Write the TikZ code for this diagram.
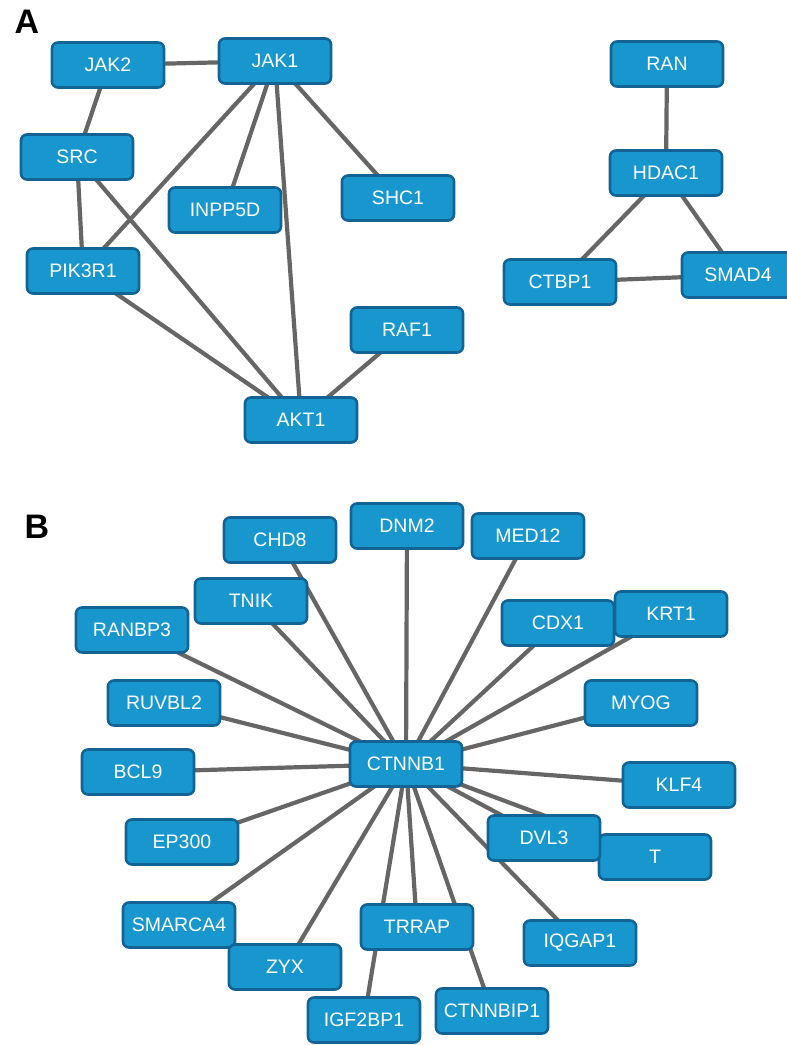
\documentclass[tikz,border=0pt]{standalone}
\usepackage{fontspec}
\setmainfont{Liberation Sans}
\usetikzlibrary{backgrounds}
\definecolor{boxfill}{RGB}{24,151,206}
\definecolor{boxline}{RGB}{19,100,148}
\definecolor{edgecol}{RGB}{102,102,102}
\begin{document}
\begin{tikzpicture}[x=1pt,y=-1pt,
  gene/.style={draw=boxline, fill=boxfill, line width=2.6pt, rounded corners=6pt,
    minimum width=112pt, minimum height=45pt, inner sep=0pt, text=white,
    font=\fontsize{19.5}{21}\selectfont},
  edge/.style={draw=edgecol, line width=4.2pt},
  panel/.style={font=\fontsize{34}{36}\selectfont\bfseries, text=black}]
\useasboundingbox (0,0) rectangle (787,1045);
\node[panel] (LA) at (27,22) {A};
\node[panel] (LB) at (37,527) {B};
% Panel A
\node[gene] (JAK2) at (108,65) {JAK2};
\node[gene] (JAK1) at (275,61) {JAK1};
\node[gene] (SRC) at (77,157) {SRC};
\node[gene] (INPP5D) at (225,210) {INPP5D};
\node[gene] (SHC1) at (398,198) {SHC1};
\node[gene] (PIK3R1) at (83,271) {PIK3R1};
\node[gene] (RAF1) at (407,330) {RAF1};
\node[gene] (AKT1) at (301,420) {AKT1};
\node[gene] (RAN) at (667,64) {RAN};
\node[gene] (HDAC1) at (666,173) {HDAC1};
\node[gene] (CTBP1) at (560,282) {CTBP1};
\node[gene] (SMAD4) at (738,275) {SMAD4};
% Panel B
\node[gene] (CHD8) at (280,540) {CHD8};
\node[gene] (DNM2) at (407,526) {DNM2};
\node[gene] (MED12) at (528,536) {MED12};
\node[gene] (TNIK) at (251,601) {TNIK};
\node[gene] (RANBP3) at (132,630) {RANBP3};
\node[gene] (CDX1) at (558,623) {CDX1};
\node[gene] (KRT1) at (671,614) {KRT1};
\node[gene] (RUVBL2) at (164,703) {RUVBL2};
\node[gene] (MYOG) at (641,703) {MYOG};
\node[gene] (CTNNB1) at (406,764) {CTNNB1};
\node[gene] (BCL9) at (138,772) {BCL9};
\node[gene] (KLF4) at (679,785) {KLF4};
\node[gene] (EP300) at (182,842) {EP300};
\node[gene] (T) at (655,857) {T};
\node[gene] (DVL3) at (544,838) {DVL3};
\node[gene] (SMARCA4) at (179,925) {SMARCA4};
\node[gene] (IQGAP1) at (580,943) {IQGAP1};
\node[gene] (ZYX) at (285,967) {ZYX};
\node[gene] (IGF2BP1) at (364,1020) {IGF2BP1};
\node[gene] (CTNNBIP1) at (492,1011) {CTNNBIP1};
\node[gene] (TRRAP) at (417,927) {TRRAP};
\begin{pgfonlayer}{background}
\draw[edge] (JAK2.center) -- (JAK1.center);
\draw[edge] (JAK2.center) -- (SRC.center);
\draw[edge] (SRC.center) -- (PIK3R1.center);
\draw[edge] (SRC.center) -- (AKT1.center);
\draw[edge] (JAK1.center) -- (PIK3R1.center);
\draw[edge] (JAK1.center) -- (INPP5D.center);
\draw[edge] (JAK1.center) -- (SHC1.center);
\draw[edge] (JAK1.center) -- (AKT1.center);
\draw[edge] (PIK3R1.center) -- (AKT1.center);
\draw[edge] (RAF1.center) -- (AKT1.center);
\draw[edge] (RAN.center) -- (HDAC1.center);
\draw[edge] (HDAC1.center) -- (CTBP1.center);
\draw[edge] (HDAC1.center) -- (SMAD4.center);
\draw[edge] (CTBP1.center) -- (SMAD4.center);
\foreach \g in {CHD8,DNM2,MED12,TNIK,RANBP3,CDX1,KRT1,RUVBL2,MYOG,BCL9,KLF4,EP300,T,DVL3,SMARCA4,IQGAP1,ZYX,IGF2BP1,CTNNBIP1,TRRAP}
  \draw[edge] (CTNNB1.center) -- (\g.center);
\end{pgfonlayer}
\end{tikzpicture}
\end{document}
